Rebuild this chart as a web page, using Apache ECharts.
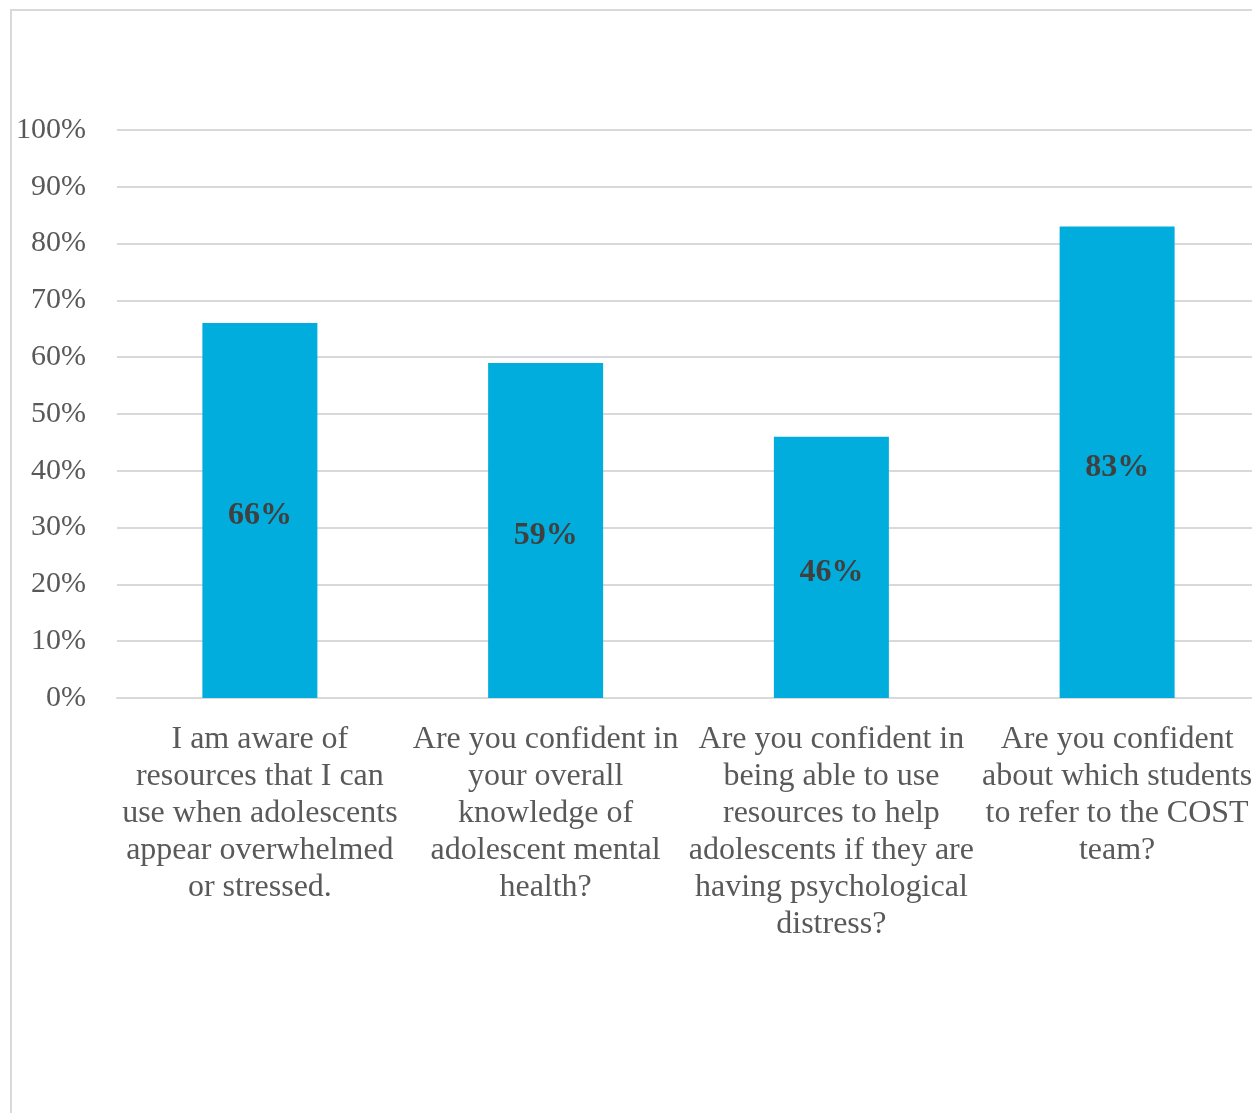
<!DOCTYPE html>
<html>
<head>
<meta charset="utf-8">
<style>
  html, body { margin: 0; padding: 0; background: #ffffff; overflow: hidden; }
  #chart { width: 1260px; height: 1113px; }
</style>
<script src="https://cdn.jsdelivr.net/npm/echarts@6/dist/echarts.min.js"></script>
</head>
<body>
<div id="chart"></div>
<script>
// Survey questions (category axis) and share of "yes" responses
const categories = [
  'I am aware of\nresources that I can\nuse when adolescents\nappear overwhelmed\nor stressed.',
  'Are you confident in\nyour overall\nknowledge of\nadolescent mental\nhealth?',
  'Are you confident in\nbeing able to use\nresources to help\nadolescents if they are\nhaving psychological\ndistress?',
  'Are you confident\nabout which students\nto refer to the COST\nteam?'
];
const values = [66, 59, 46, 83];
const yTicks = [0, 10, 20, 30, 40, 50, 60, 70, 80, 90, 100];

const serif = '"Liberation Serif", "Times New Roman", serif';
const chart = echarts.init(document.getElementById('chart'), null, { renderer: 'canvas' });

chart.setOption({
  backgroundColor: '#ffffff',
  animation: false,
  graphic: [{
    type: 'rect',
    shape: { x: 11, y: 10, width: 1400, height: 1300 },
    style: { fill: 'none', stroke: '#d9d9d9', lineWidth: 2 },
    silent: true,
    z: -10
  }],
  grid: { left: 117, right: 0, top: 130, bottom: 415, containLabel: false },
  xAxis: {
    type: 'category',
    data: categories,
    axisLine: { show: true, lineStyle: { color: '#d9d9d9', width: 2 } },
    axisTick: { show: false },
    axisLabel: {
      interval: 0,
      margin: 23,
      fontFamily: serif,
      fontSize: 32,
      lineHeight: 37,
      color: '#595959',
      align: 'center'
    }
  },
  yAxis: {
    type: 'value',
    min: 0,
    max: 100,
    interval: 10,
    axisLine: { show: false },
    axisTick: { show: false },
    splitLine: { lineStyle: { color: '#d9d9d9', width: 2 } },
    axisLabel: {
      margin: 31,
      padding: [4, 0, 0, 0],
      fontFamily: serif,
      fontSize: 30,
      color: '#595959',
      formatter: function (v) { return yTicks.indexOf(v) >= 0 ? v + '%' : ''; }
    }
  },
  series: [{
    type: 'bar',
    data: values,
    barWidth: 115,
    itemStyle: { color: '#00addc' },
    label: {
      show: true,
      position: 'inside',
      offset: [0, 5],
      fontFamily: serif,
      fontWeight: 'bold',
      fontSize: 32,
      color: '#404040',
      formatter: '{c}%'
    }
  }]
});
</script>
</body>
</html>
